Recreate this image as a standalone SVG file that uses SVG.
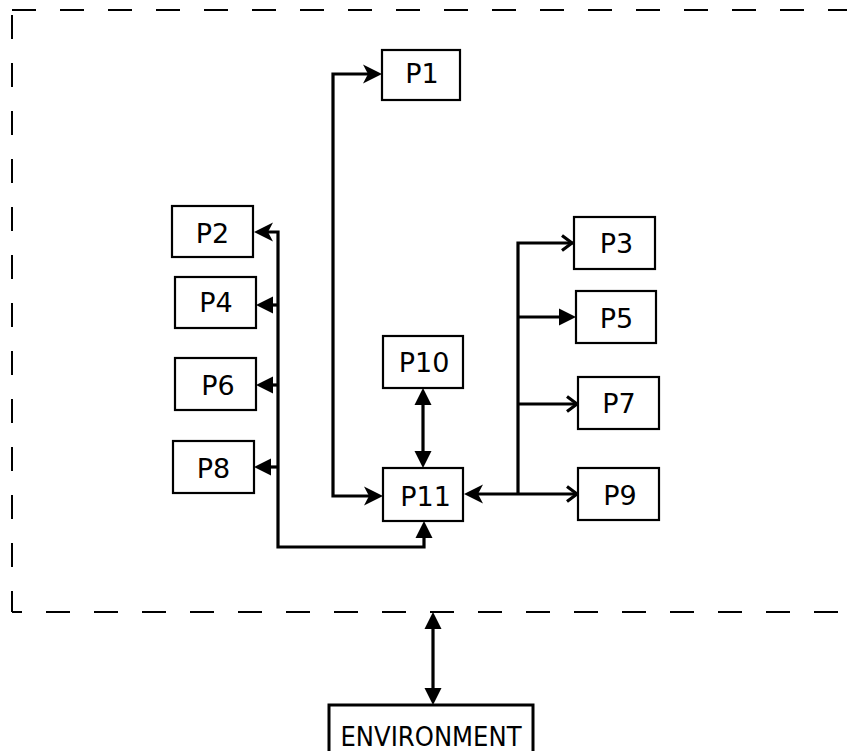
<svg xmlns="http://www.w3.org/2000/svg" width="847" height="751" viewBox="0 0 847 751">
<style>
.box{fill:#fff;stroke:#000;stroke-width:2.2}
.lbl{font-family:"DejaVu Sans",Verdana,sans-serif;font-size:27px;fill:#000;text-anchor:middle}
.c{fill:none;stroke:#000;stroke-width:3.2;stroke-linejoin:miter}
.bd{stroke:#000;stroke-width:2;stroke-dasharray:24 24;fill:none}
</style>
<defs>
<marker id="af" markerUnits="userSpaceOnUse" viewBox="-16 -11 24 22" refX="0" refY="0" markerWidth="24" markerHeight="22" orient="auto-start-reverse">
<path d="M6,0 L-13,-9.5 L-8,0 L-13,9.5 Z" fill="#000"/>
</marker>
<marker id="at" markerUnits="userSpaceOnUse" viewBox="-14 -10 22 20" refX="0" refY="0" markerWidth="22" markerHeight="20" orient="auto-start-reverse">
<path d="M6,0 L-11,-8.5 L-11,8.5 Z" fill="#000"/>
</marker>
<marker id="ao" markerUnits="userSpaceOnUse" viewBox="-14 -10 20 20" refX="0" refY="0" markerWidth="20" markerHeight="20" orient="auto">
<path d="M-11,-7.5 L-1,0 L-11,7.5" fill="none" stroke="#000" stroke-width="3.2"/>
</marker>
</defs>
<g id="boundary">
<line class="bd" x1="12" y1="10" x2="847" y2="10"/>
<line class="bd" x1="12" y1="15" x2="12" y2="612"/>
<line class="bd" x1="12" y1="612" x2="847" y2="612" stroke-dashoffset="14"/>
</g>
<g id="connectors">
<path class="c" d="M377,496 L333,496 L333,74 L376,74" marker-start="url(#af)" marker-end="url(#af)"/>
<path class="c" d="M260,232 L278,232 L278,547 L424,547 L424,527" marker-start="url(#af)" marker-end="url(#at)"/>
<path class="c" d="M278,305 L262,305" marker-end="url(#at)"/>
<path class="c" d="M278,385 L262,385" marker-end="url(#at)"/>
<path class="c" d="M278,467 L260,467" marker-end="url(#at)"/>
<path class="c" d="M423,394 L423,462" marker-start="url(#at)" marker-end="url(#at)"/>
<path class="c" d="M470,494 L578,494" marker-start="url(#af)" marker-end="url(#ao)"/>
<path class="c" d="M518,494 L518,243 L573,243" marker-end="url(#ao)"/>
<path class="c" d="M518,317 L570,317" marker-end="url(#at)"/>
<path class="c" d="M518,404 L578,404" marker-end="url(#ao)"/>
<path class="c" d="M433,618 L433,699" marker-start="url(#at)" marker-end="url(#at)"/>
</g>
<g id="P1"><rect class="box" x="382" y="50" width="78" height="50"/><text class="lbl" x="422" y="83">P1</text></g>
<g id="P2"><rect class="box" x="172" y="206" width="81" height="51"/><text class="lbl" x="212.5" y="243">P2</text></g>
<g id="P4"><rect class="box" x="175" y="277" width="81" height="51"/><text class="lbl" x="216" y="312">P4</text></g>
<g id="P6"><rect class="box" x="175" y="358" width="81" height="52"/><text class="lbl" x="218" y="395">P6</text></g>
<g id="P8"><rect class="box" x="173" y="441" width="81" height="52"/><text class="lbl" x="213.5" y="478">P8</text></g>
<g id="P10"><rect class="box" x="383" y="336" width="80" height="52"/><text class="lbl" x="424" y="371.5">P10</text></g>
<g id="P11"><rect class="box" x="383" y="468" width="80" height="53"/><text class="lbl" x="425.5" y="506">P11</text></g>
<g id="P3"><rect class="box" x="574" y="217" width="81" height="52"/><text class="lbl" x="616.5" y="253">P3</text></g>
<g id="P5"><rect class="box" x="576" y="291" width="80" height="52"/><text class="lbl" x="616.5" y="328">P5</text></g>
<g id="P7"><rect class="box" x="578" y="377" width="81" height="52"/><text class="lbl" x="619" y="413">P7</text></g>
<g id="P9"><rect class="box" x="578" y="468" width="81" height="52"/><text class="lbl" x="620" y="505">P9</text></g>
<g id="ENVIRONMENT"><rect x="329" y="705" width="204" height="60" fill="#fff" stroke="#000" stroke-width="3"/><text class="lbl" x="431" y="746" font-size="32" textLength="181" lengthAdjust="spacingAndGlyphs">ENVIRONMENT</text></g>
</svg>
